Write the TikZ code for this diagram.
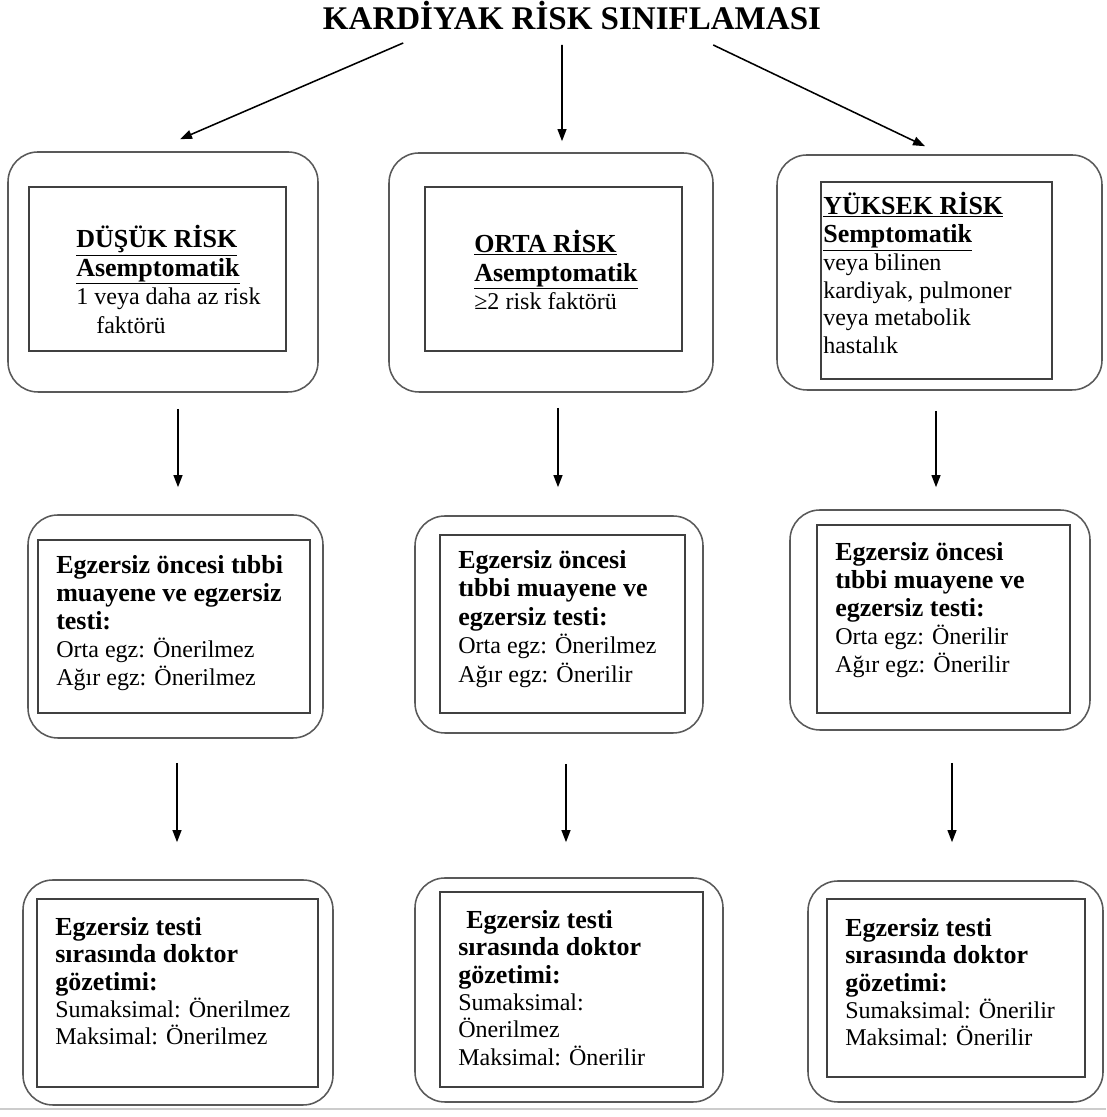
\documentclass[tikz,border=0pt]{standalone}
\usepackage{fontspec}
\setmainfont{Liberation Serif}
\usetikzlibrary{arrows.meta}
\definecolor{kenar}{rgb}{0.35,0.35,0.35}
\definecolor{icken}{rgb}{0.25,0.25,0.25}
\newcommand{\bhead}[1]{{\fontsize{18.5}{19.5}\selectfont\bfseries #1}}

\begin{document}
\begin{tikzpicture}[
  outer/.style={draw=kenar, line width=1.1pt, rounded corners=0.75cm},
  inner/.style={draw=icken, line width=1.3pt},
  txt/.style={anchor=north west, inner sep=0pt, align=left, font=\fontsize{17.1}{#1}\selectfont},
  txt/.default=19.5pt,
  arr/.style={-{Triangle[length=0.3cm,width=0.22cm]}, line width=1.1pt}]
\useasboundingbox (0,0) rectangle (27.65,27.925);
\node[font=\fontsize{23.5}{26}\selectfont\bfseries, anchor=base, inner sep=0pt] (title) at (14.3,27.175) {KARDİYAK RİSK SINIFLAMASI};
% risk boxes
  \node[outer, minimum width=7.75cm, minimum height=6cm] (dusuk) at (4.075,21.125) {};
  \node[outer, minimum width=8.1cm, minimum height=5.975cm] (orta) at (13.775,21.1125) {};
  \node[outer, minimum width=8.125cm, minimum height=5.875cm] (yuksek) at (23.4875,21.1125) {};
  \node[inner, minimum width=6.425cm, minimum height=4.1cm] (dusukin) at (3.9375,21.2) {};
  \node[inner, minimum width=6.425cm, minimum height=4.1cm] (ortain) at (13.8375,21.2) {};
  \node[inner, minimum width=5.775cm, minimum height=4.925cm] (yuksekin) at (23.4125,20.9125) {};
  \node[txt=20.3pt] (dusuktxt) at (1.9,22.3) {\bhead{\underline{DÜŞÜK RİSK}}\\ \bhead{\underline{Asemptomatik}}\\ 1 veya daha az risk\\ \hspace*{0.5cm}faktörü};
  \node[txt=20.3pt] (ortatxt) at (11.85,22.175) {\bhead{\underline{ORTA RİSK}}\\ \bhead{\underline{Asemptomatik}}\\ ≥2 risk faktörü};
  \node[txt=19.8pt] (yuksektxt) at (20.575,23.125) {\bhead{\underline{YÜKSEK RİSK}}\\ \bhead{\underline{Semptomatik}}\\ veya bilinen\\ kardiyak, pulmoner\\ veya metabolik\\ hastalık};
% muayene boxes
  \node[outer, minimum width=7.375cm, minimum height=5.575cm] (muay1) at (4.3875,12.2625) {};
  \node[outer, minimum width=7.2cm, minimum height=5.425cm] (muay2) at (13.975,12.3125) {};
  \node[outer, minimum width=7.5cm, minimum height=5.5cm] (muay3) at (23.5,12.425) {};
  \node[inner, minimum width=6.8cm, minimum height=4.325cm] (muay1in) at (4.35,12.2625) {};
  \node[inner, minimum width=6.125cm, minimum height=4.45cm] (muay2in) at (14.0625,12.325) {};
  \node[inner, minimum width=6.325cm, minimum height=4.7cm] (muay3in) at (23.5875,12.45) {};
  \node[txt=20pt] (muay1txt) at (1.4,14.05) {\bhead{Egzersiz öncesi tıbbi}\\ \bhead{muayene ve egzersiz}\\ \bhead{testi:}\\ Orta egz: Önerilmez\\ Ağır egz: Önerilmez};
  \node[txt=20.3pt] (muay2txt) at (11.45,14.175) {\bhead{Egzersiz öncesi}\\ \bhead{tıbbi muayene ve}\\ \bhead{egzersiz testi:}\\ Orta egz: Önerilmez\\ Ağır egz: Önerilir};
  \node[txt=20pt] (muay3txt) at (20.875,14.375) {\bhead{Egzersiz öncesi}\\ \bhead{tıbbi muayene ve}\\ \bhead{egzersiz testi:}\\ Orta egz: Önerilir\\ Ağır egz: Önerilir};
% gozetim boxes
  \node[outer, minimum width=7.75cm, minimum height=5.625cm] (goz1) at (4.45,3.1125) {};
  \node[outer, minimum width=7.7cm, minimum height=5.6cm] (goz2) at (14.225,3.175) {};
  \node[outer, minimum width=7.375cm, minimum height=5.525cm] (goz3) at (23.8875,3.1375) {};
  \node[inner, minimum width=7.025cm, minimum height=4.7cm] (goz1in) at (4.4375,3.1) {};
  \node[inner, minimum width=6.575cm, minimum height=4.875cm] (goz2in) at (14.2875,3.1875) {};
  \node[inner, minimum width=6.45cm, minimum height=4.45cm] (goz3in) at (23.9,3.225) {};
  \node[txt] (goz1txt) at (1.375,5.0) {\bhead{Egzersiz testi}\\ \bhead{sırasında doktor}\\ \bhead{gözetimi:}\\ Sumaksimal: Önerilmez\\ Maksimal: Önerilmez};
  \node[txt] (goz2txt) at (11.45,5.175) {\bhead{\hspace*{0.2cm}Egzersiz testi}\\ \bhead{sırasında doktor}\\ \bhead{gözetimi:}\\ Sumaksimal:\\ Önerilmez\\ Maksimal: Önerilir};
  \node[txt] (goz3txt) at (21.125,4.975) {\bhead{Egzersiz testi}\\ \bhead{sırasında doktor}\\ \bhead{gözetimi:}\\ Sumaksimal: Önerilir\\ Maksimal: Önerilir};
\coordinate (sl) at (10.08,26.85);
\coordinate (sm) at (14.05,26.8);
\coordinate (sr) at (17.83,26.8);
\draw[arr] (sl) -- ([xshift=0.425cm,yshift=0.3cm]dusuk.north);
\draw[arr] (sm) -- ([xshift=0.275cm,yshift=0.275cm]orta.north);
\draw[arr] (sr) -- ([xshift=-0.3625cm,yshift=0.2cm]yuksek.north);
\draw[arr, shorten <=0.4cm, shorten >=0.675cm] ([xshift=0.375cm]dusuk.south) -- ([xshift=0.375cm]dusuk.south |- muay1.north);
\draw[arr, shorten <=0.375cm, shorten >=0.7cm] ([xshift=0.175cm]orta.south) -- ([xshift=0.175cm]orta.south |- muay2.north);
\draw[arr, shorten <=0.5cm, shorten >=0.55cm] ([xshift=-0.0875cm]yuksek.south) -- ([xshift=-0.0875cm]yuksek.south |- muay3.north);
\draw[arr, shorten <=0.6cm, shorten >=0.925cm] ([xshift=0.0375cm]muay1.south) -- ([xshift=0.0375cm]muay1.south |- goz1.north);
\draw[arr, shorten <=0.75cm, shorten >=0.875cm] ([xshift=0.175cm]muay2.south) -- ([xshift=0.175cm]muay2.south |- goz2.north);
\draw[arr, shorten <=0.8cm, shorten >=0.95cm] ([xshift=0.3cm]muay3.south) -- ([xshift=0.3cm]muay3.south |- goz3.north);
\draw[black!20, line width=1pt] (0,0.2) -- (27.65,0.2);
\end{tikzpicture}
\end{document}
